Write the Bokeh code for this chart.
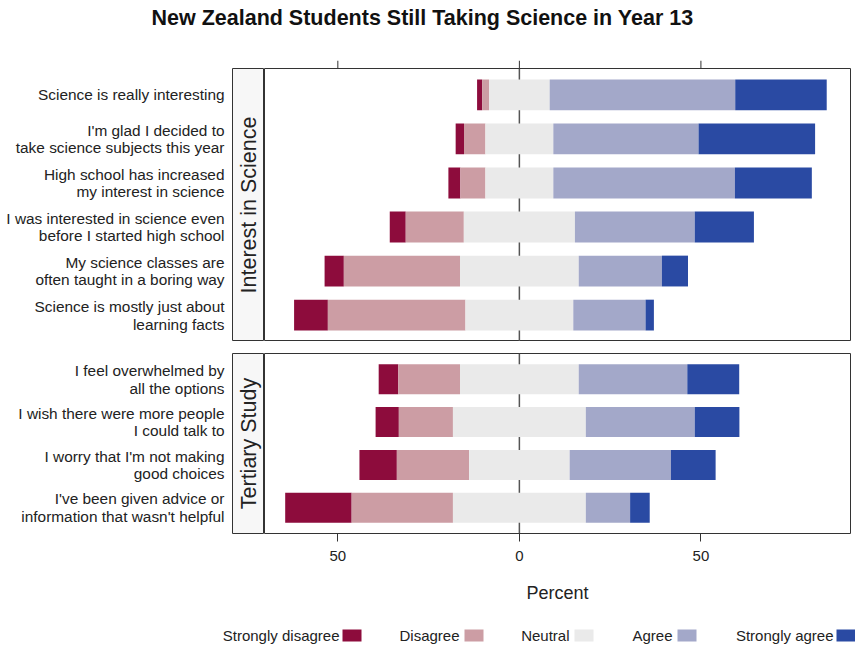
import numpy as np
from bokeh.plotting import figure
from bokeh.layouts import column, row
from bokeh.models import (ColumnDataSource, FactorRange, Range1d, FixedTicker,
                          Span, Spacer)
from bokeh.core.properties import value
from bokeh.embed import file_html
from bokeh.resources import INLINE

# ---------------- data ----------------
title = "New Zealand Students Still Taking Science in Year 13"
levels = ["Strongly disagree", "Disagree", "Neutral", "Agree", "Strongly agree"]
colors = ["#8d0c3c", "#cc9da4", "#eaeaea", "#a3a8c9", "#2a4aa3"]

group1 = "Interest in Science"
questions1 = [
    "Science is really interesting",
    "I'm glad I decided to\ntake science subjects this year",
    "High school has increased\nmy interest in science",
    "I was interested in science even\nbefore I started high school",
    "My science classes are\noften taught in a boring way",
    "Science is mostly just about\nlearning facts",
]
sd1 = [1.4, 2.3, 3.3, 4.4, 5.3, 9.3]
d1 = [1.9, 5.9, 6.9, 16.0, 32.0, 37.9]
n1 = [16.7, 18.7, 18.7, 30.6, 32.7, 29.7]
a1 = [51.1, 40.0, 50.0, 33.0, 22.9, 19.9]
sa1 = [25.2, 32.1, 21.2, 16.3, 7.2, 2.3]

group2 = "Tertiary Study"
questions2 = [
    "I feel overwhelmed by\nall the options",
    "I wish there were more people\nI could talk to",
    "I worry that I'm not making\ngood choices",
    "I've been given advice or\ninformation that wasn't helpful",
]
sd2 = [5.4, 6.4, 10.3, 18.3]
d2 = [17.0, 14.9, 19.9, 27.9]
n2 = [32.7, 36.6, 27.7, 36.6]
a2 = [29.9, 30.0, 27.9, 12.2]
sa2 = [14.3, 12.3, 12.3, 5.4]

tick_values = [-50, 0, 50]
tick_labels = ["50", "0", "50"]
x_label = "Percent"

# ---------------- style ----------------
FONT = "Liberation Sans"
TXT = "#222222"
X_RANGE = Range1d(-70.2, 91.2)
STRIP_W = 264      # width of label + strip column
PANEL_W = 587


def segments(questions, *series):
    arrs = [np.asarray(s, dtype=float) for s in series]
    cur = -(arrs[0] + arrs[1] + arrs[2] / 2.0)
    q, left, right, col = [], [], [], []
    for v, c in zip(arrs, colors):
        q += list(questions)
        left += list(cur)
        right += list(cur + v)
        col += [c] * len(questions)
        cur = cur + v
    return ColumnDataSource(dict(q=q, left=left, right=right, color=col))


def make_row(group, questions, src, height, top_b, bottom_b, axis_loc):
    yr = FactorRange(*questions[::-1], range_padding=0.1,
                     range_padding_units="absolute")

    # strip + question labels
    s = figure(width=STRIP_W, height=height, x_range=Range1d(0, 1), y_range=yr,
               title=None, output_backend="svg", toolbar_location=None,
               x_axis_location=None, min_border_left=STRIP_W - 32,
               min_border_right=0, min_border_top=top_b,
               min_border_bottom=bottom_b)
    s.xgrid.visible = False
    s.ygrid.visible = False
    s.background_fill_color = "#f7f7f7"
    s.outline_line_color = "#333333"
    s.outline_line_width = 1
    ax = s.yaxis[0]
    ax.axis_line_color = None
    ax.major_tick_line_color = None
    ax.minor_tick_line_color = None
    ax.major_tick_out = 0
    ax.major_tick_in = 0
    ax.minor_tick_out = 0
    ax.minor_tick_in = 0
    ax.major_label_standoff = 8
    ax.major_label_text_font = FONT
    ax.major_label_text_font_size = "15.4px"
    ax.major_label_text_line_height = 1.05
    ax.major_label_text_color = TXT
    # strip title centred on the panel (synthetic categorical coordinate)
    s.text(x=[0.5], y=[len(questions) / 2.0], text=[group], angle=np.pi / 2,
           text_align="center", text_baseline="middle",
           text_font=value(FONT), text_font_size="21.5px", text_color=TXT)

    # panel
    p = figure(width=PANEL_W, height=height, x_range=X_RANGE, y_range=yr,
               title=None, output_backend="svg", toolbar_location=None,
               x_axis_location=axis_loc, y_axis_location=None,
               min_border_left=0, min_border_right=1,
               min_border_top=top_b, min_border_bottom=bottom_b)
    p.xgrid.visible = False
    p.ygrid.visible = False
    p.outline_line_color = "#333333"
    p.outline_line_width = 1
    p.add_layout(Span(location=0, dimension="height", line_color="#555555",
                      line_width=1.5, level="underlay"))
    p.hbar(y="q", left="left", right="right", height=0.7, color="color",
           line_color=None, source=src)
    return s, p


src1 = segments(questions1, sd1, d1, n1, a1, sa1)
src2 = segments(questions2, sd2, d2, n2, a2, sa2)

s1, p1 = make_row(group1, questions1, src1, 273, 0, 0, None)
s2, p2 = make_row(group2, questions2, src2, 264, 12, 68, "below")

ax2 = p2.xaxis[0]
ax2.ticker = FixedTicker(ticks=tick_values)
ax2.major_label_overrides = {v: l for v, l in zip(tick_values, tick_labels)}
ax2.axis_line_color = None
ax2.major_tick_line_color = "#333333"
ax2.minor_tick_line_color = None
ax2.major_tick_in = 0
ax2.major_tick_out = 8
ax2.major_label_standoff = 9
ax2.major_label_text_font = FONT
ax2.major_label_text_font_size = "15px"
ax2.major_label_text_color = TXT
ax2.axis_label = x_label
ax2.axis_label_text_font = FONT
ax2.axis_label_text_font_size = "18px"
ax2.axis_label_text_font_style = "normal"
ax2.axis_label_text_color = TXT
ax2.axis_label_standoff = 19

# tick marks above the top panel (same x scale as the panels)
tk = figure(width=PANEL_W, height=10, x_range=X_RANGE, y_range=Range1d(0, 1),
            title=None, output_backend="svg", toolbar_location=None,
            min_border=0, min_border_right=1,
            x_axis_location=None, y_axis_location=None)
tk.outline_line_color = None
tk.xgrid.visible = False
tk.ygrid.visible = False
tk.segment(x0=tick_values, y0=[0] * 3, x1=tick_values, y1=[1] * 3,
           line_color="#333333", line_width=1)

# header with title
hdr = figure(width=855, height=58, x_range=Range1d(0, 855), y_range=Range1d(0, 58),
             title=None, output_backend="svg", toolbar_location=None, min_border=0,
             x_axis_location=None, y_axis_location=None)
hdr.outline_line_color = None
hdr.xgrid.visible = False
hdr.ygrid.visible = False
hdr.text(x=[422], y=[41], text=[title], text_align="center",
         text_baseline="alphabetic", text_font=value(FONT),
         text_font_size="21.5px", text_font_style="bold", text_color="#111111")

# legend (label then swatch)
leg_text_right = [339, 459, 569, 672, 833]
leg_swatch_left = [342, 464, 574, 677, 836]
SW = 19
leg = figure(width=855, height=40, x_range=Range1d(0, 855), y_range=Range1d(0, 40),
             title=None, output_backend="svg", toolbar_location=None, min_border=0,
             x_axis_location=None, y_axis_location=None)
leg.outline_line_color = None
leg.xgrid.visible = False
leg.ygrid.visible = False
leg.text(x=leg_text_right, y=[10] * 5, text=levels, text_align="right",
         text_baseline="middle", text_font=value(FONT), text_font_size="15px",
         text_color=TXT)
leg.quad(left=leg_swatch_left, right=[v + SW for v in leg_swatch_left],
         bottom=[4] * 5, top=[16] * 5, fill_color=colors, line_color=None)

layout = column(hdr,
                row(Spacer(width=STRIP_W, height=10), tk),
                row(s1, p1),
                row(s2, p2),
                leg)

open("out.html", "w").write(file_html(layout, INLINE))
